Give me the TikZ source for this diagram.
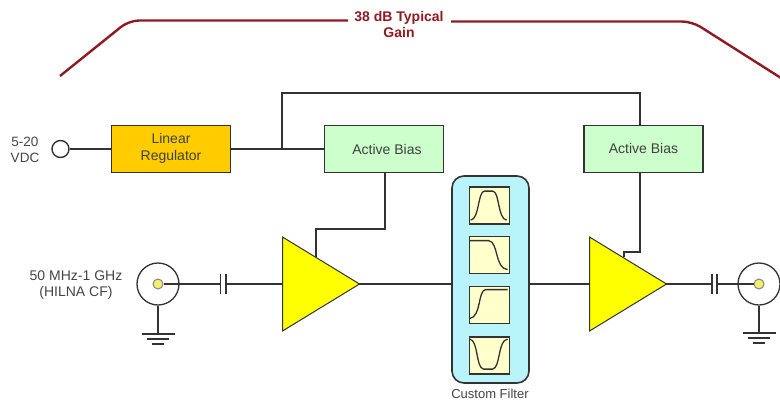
\documentclass[tikz,border=0pt]{standalone}
\usepackage{fontspec}
\setmainfont{Liberation Sans}
\usetikzlibrary{shapes.geometric}
\definecolor{wirec}{HTML}{333333}
\definecolor{txt}{HTML}{444444}
\definecolor{gainc}{HTML}{901A22}
\definecolor{ampy}{rgb}{1,1,0}
\tikzset{
  wire/.style={draw=wirec,line width=1.6pt},
  gainline/.style={draw=gainc,line width=2.4pt,rounded corners=10pt},
  lab/.style={font=\fontsize{13.5}{16}\selectfont,text=txt,align=center,inner sep=0pt},
  gainlab/.style={font=\fontsize{14}{15.5}\selectfont\bfseries,text=gainc,align=center,inner sep=0pt},
  blockbox/.style={draw=wirec,line width=1.8pt,minimum width=119pt,minimum height=47pt,inner sep=0pt,align=center,font=\fontsize{14}{17}\selectfont,text=black!75},
  reg/.style={blockbox,fill={rgb,255:red,255;green,204;blue,0}},
  bias/.style={blockbox,fill={rgb,255:red,204;green,255;blue,204}},
  amp/.style={isosceles triangle,isosceles triangle stretches,draw=wirec,line width=1pt,fill=ampy,minimum width=94pt,minimum height=77pt,inner sep=0pt,anchor=lower side},
  cfilter/.style={draw=wirec,line width=1.6pt,fill={rgb,255:red,185;green,244;blue,250},rounded corners=12pt,minimum width=77pt,minimum height=207pt,inner sep=0pt},
  fcell/.style={draw=wirec,line width=1.8pt,fill={rgb,255:red,255;green,255;blue,204},minimum width=40pt,minimum height=37pt,inner sep=0pt},
  curve/.style={draw=wirec,line width=1.3pt},
  coax/.style={circle,draw=wirec,line width=1.3pt,fill=white,minimum size=42pt,inner sep=0pt},
  pin/.style={circle,draw=wirec!60,line width=1pt,fill={rgb,255:red,240;green,240;blue,110},minimum size=10pt,inner sep=0pt},
  term/.style={circle,draw=wirec,line width=1.4pt,fill=white,minimum size=17pt,inner sep=0pt},
  capgap/.style={fill=white,draw=none,minimum width=5.4pt,minimum height=20pt,inner sep=0pt},
}
\newcommand{\capsym}[1]{%
  \node[capgap] at (#1) {};
  \draw[wire] ([xshift=-2.7pt,yshift=10pt]#1) -- ([xshift=-2.7pt,yshift=-10pt]#1);
  \draw[wire] ([xshift=2.7pt,yshift=10pt]#1) -- ([xshift=2.7pt,yshift=-10pt]#1);}
\newcommand{\gndsym}[1]{%
  \draw[wire] ([xshift=-16.5pt]#1) -- ([xshift=16.5pt]#1);
  \draw[wire] ([xshift=-11pt,yshift=-5pt]#1) -- ([xshift=11pt,yshift=-5pt]#1);
  \draw[wire] ([xshift=-6pt,yshift=-10pt]#1) -- ([xshift=6pt,yshift=-10pt]#1);}
\begin{document}
\begin{tikzpicture}[x=1pt,y=-1pt]
\useasboundingbox (0,0) rectangle (780,400);
% gain
\node[gainlab] (gain) at (399,24.5) {38 dB Typical\\Gain};
\coordinate (gl) at (60,76);
\coordinate (gr) at (781,78);
\draw[gainline] (gl) -- (129,20.5) -- (348,20.5);
\draw[gainline] (451,21.5) -- (692,21.5) -- (gr);
% nodes
\node[term] (vin) at (60.5,149) {};
\node[lab] (vlab) at (25,150) {5-20\\VDC};
\node[reg] (lr) at (171,149) {\raisebox{4pt}{\begin{tabular}{@{}c@{}}Linear\\Regulator\end{tabular}}};
\node[bias] (b1) at (384,149) {\hspace{6pt}Active Bias};
\node[bias] (b2) at (643.5,149) {\raisebox{1.5pt}{Active Bias}};
\coordinate (j) at (282,149);
\coordinate (t1) at (282,93);
\coordinate (t2) at (640,93);
\coordinate (b2top) at (640,125);
\draw[wire] (vin) -- (lr);
\draw[wire] (lr) -- (b1);
\draw[wire] (j) -- (t1) -- (t2) -- (b2top);
% left chain
\node[coax] (c1) at (158,284) {};
\node[pin] (p1) at (158,284) {};
\node[lab,font=\fontsize{14}{16}\selectfont] (rf) at (76,285) {50 MHz-1 GHz\\(HILNA CF)};
\coordinate (k1) at (223,284);
\node[amp] (a1) at (282,284) {};
\node[amp] (a2) at (589,284) {};
\coordinate (g1) at (158,334);
\draw[wire] (c1) -- (g1);
\gndsym{g1}
\draw[wire] (p1) -- (a1.lower side);
\capsym{k1}
% filter
\node[cfilter] (f) at (490.5,279.5) {};
\node[lab,font=\fontsize{13}{16}\selectfont] (flab) at (490,394) {Custom Filter};
\draw[wire] ([xshift=-3pt]a1.apex) -- (a1.apex -| f.west);
\draw[wire] (f.east |- a2.lower side) -- (a2.lower side);
\node[fcell] (f1) at (489.5,205.5) {};
\node[fcell] (f2) at (489.5,255) {};
\node[fcell] (f3) at (489.5,305) {};
\node[fcell] (f4) at (489.5,355.5) {};
\begin{scope}[shift={(f1.north west)}]
\draw[curve] (2,34) .. controls (11,33) and (9,5) .. (16,5) -- (24,5) .. controls (31,5) and (29,33) .. (38,34);
\end{scope}
\begin{scope}[shift={(f2.north west)}]
\draw[curve] (1,5) -- (20,5) .. controls (30,6) and (26,33) .. (39,34);
\end{scope}
\begin{scope}[shift={(f3.north west)}]
\draw[curve] (1,33) .. controls (13,31) and (9,5) .. (17,4) -- (39,4);
\end{scope}
\begin{scope}[shift={(f4.north west)}]
\draw[curve] (1,3) .. controls (10,4) and (7,32) .. (15,33) -- (24,33) .. controls (32,32) and (29,4) .. (39,3);
\end{scope}
% bias feeds
\coordinate (fb1a) at (385,229);
\coordinate (fb1b) at (316,229);
\coordinate (fb1c) at (316,257);
\coordinate (b1d) at (385,173);
\draw[wire] (b1d) -- (fb1a) -- (fb1b) -- (fb1c);
\coordinate (b2d) at (640,172);
\coordinate (fb2a) at (640,252);
\coordinate (fb2b) at (624,252);
\coordinate (fb2c) at (624,257);
\draw[wire] (b2d) -- (fb2a) -- (fb2b) -- (fb2c);
% right chain
\coordinate (k2) at (714.5,284);
\node[coax] (c2) at (759,284) {};
\node[pin] (p2) at (759,284) {};
\coordinate (g2) at (759,333);
\draw[wire] ([xshift=-3pt]a2.apex) -- (p2);
\capsym{k2}
\draw[wire] (c2) -- (g2);
\gndsym{g2}
\end{tikzpicture}
\end{document}
